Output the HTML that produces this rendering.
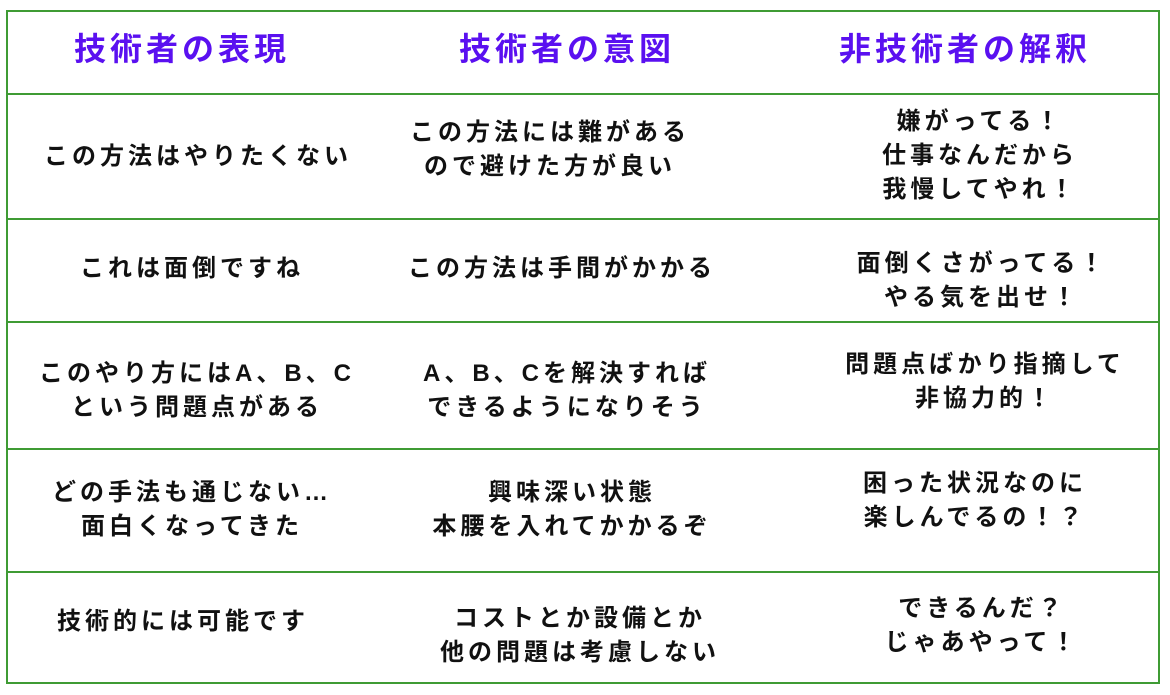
<!DOCTYPE html>
<html><head><meta charset="utf-8"><style>
body{margin:0;width:1170px;height:695px;background:#fff;position:relative;overflow:hidden;font-family:"Liberation Sans","Noto Sans CJK JP",sans-serif;}
.b{position:absolute;left:6px;width:1154px;height:2px;background:#3f9b34;}
.v{position:absolute;top:11px;width:2px;height:673px;background:#3f9b34;}
.h{position:absolute;top:28px;width:440px;margin-left:-220px;text-align:center;color:#5a10f0;font-size:32px;font-weight:bold;letter-spacing:4px;line-height:42px;}
.c{position:absolute;width:440px;margin-left:-220px;text-align:center;color:#111;font-size:24px;font-weight:bold;letter-spacing:4px;line-height:34px;}
</style></head><body>
<div class="b" style="top:10px"></div>
<div class="b" style="top:93px"></div>
<div class="b" style="top:218px"></div>
<div class="b" style="top:321px"></div>
<div class="b" style="top:448px"></div>
<div class="b" style="top:571px"></div>
<div class="b" style="top:682px"></div>
<div class="v" style="left:6px"></div>
<div class="v" style="left:1158px"></div>

<div class="h" style="left:182px">技術者の表現</div>
<div class="h" style="left:567px">技術者の意図</div>
<div class="h" style="left:965px">非技術者の解釈</div>

<div class="c" style="left:198px;top:140px">この方法はやりたくない</div>
<div class="c" style="left:550px;top:116px">この方法には難がある<br>ので避けた方が良い</div>
<div class="c" style="left:980px;top:105px">嫌がってる！<br>仕事なんだから<br>我慢してやれ！</div>

<div class="c" style="left:192px;top:252px">これは面倒ですね</div>
<div class="c" style="left:562px;top:252px">この方法は手間がかかる</div>
<div class="c" style="left:982px;top:247px">面倒くさがってる！<br>やる気を出せ！</div>

<div class="c" style="left:197px;top:357px">このやり方にはA、B、C<br>という問題点がある</div>
<div class="c" style="left:567px;top:357px">A、B、Cを解決すれば<br>できるようになりそう</div>
<div class="c" style="left:985px;top:348px">問題点ばかり指摘して<br>非協力的！</div>

<div class="c" style="left:192px;top:476px">どの手法も通じない…<br>面白くなってきた</div>
<div class="c" style="left:572px;top:476px">興味深い状態<br>本腰を入れてかかるぞ</div>
<div class="c" style="left:975px;top:467px">困った状況なのに<br>楽しんでるの！？</div>

<div class="c" style="left:183px;top:605px">技術的には可能です</div>
<div class="c" style="left:580px;top:602px">コストとか設備とか<br>他の問題は考慮しない</div>
<div class="c" style="left:982px;top:592px">できるんだ？<br>じゃあやって！</div>
</body></html>
